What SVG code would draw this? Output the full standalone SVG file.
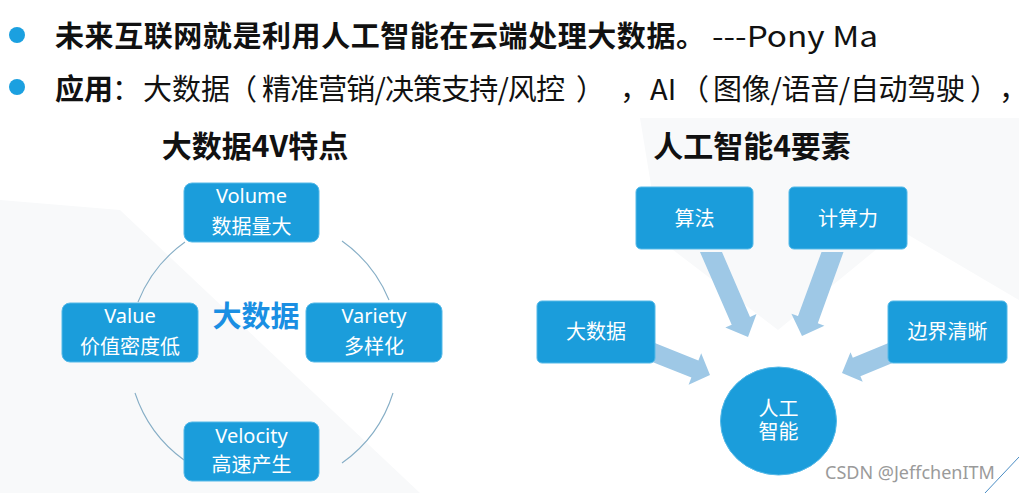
<svg xmlns="http://www.w3.org/2000/svg" width="1019" height="493" viewBox="0 0 1019 493">
  <style>
    .cjk { font-family: "Noto Sans CJK SC", "Noto Sans", sans-serif; }
    .head { font-family: "Noto Sans CJK SC", "Noto Sans", sans-serif; font-size: 29px; fill: #111; }
    .title { font-family: "Noto Sans CJK SC", sans-serif; font-size: 30px; font-weight: bold; fill: #111; text-anchor: middle; }
    .box { fill: #1b9ddb; stroke: #55b9e8; stroke-width: 1; }
    .lbl { font-family: "Noto Sans", "Noto Sans CJK SC", sans-serif; font-size: 20px; fill: #ffffff; text-anchor: middle; }
    .arc { fill: none; stroke: #86aec6; stroke-width: 1.1; }
    .arrow { fill: #9ec8e6; }
    .bullet { fill: #1ba0e0; }
  </style>
  <rect x="0" y="0" width="1019" height="493" fill="#ffffff"/>
  <g id="background" fill="#f8f9fa">
    <polygon points="0,200 0,493 420,493 120,210"/>
    <polygon points="640,118 1019,118 1019,300 900,230 778,330 660,240"/>
  </g>
  <g id="bullets">
    <circle class="bullet" cx="17" cy="35" r="8"/>
    <circle class="bullet" cx="17" cy="87" r="8"/>
  </g>
  <g id="headline">
    <text class="head" x="55" y="47"><tspan font-weight="bold" textLength="650" lengthAdjust="spacing">未来互联网就是利用人工智能在云端处理大数据。</tspan><tspan x="712" textLength="166" lengthAdjust="spacingAndGlyphs">---Pony Ma</tspan></text>
    <text class="head" y="100"><tspan x="55" font-weight="bold">应用</tspan><tspan x="112">：</tspan><tspan x="143">大数据</tspan><tspan x="228">（</tspan><tspan x="262" textLength="303" lengthAdjust="spacing">精准营销/决策支持/风控</tspan><tspan x="576">）</tspan><tspan x="620">，</tspan><tspan x="650">AI</tspan><tspan x="680">（</tspan><tspan x="713" textLength="252" lengthAdjust="spacing">图像/语音/自动驾驶</tspan><tspan x="970">）</tspan><tspan x="999">，</tspan></text>
  </g>
  <text class="title" x="255" y="157">大数据4V特点</text>
  <text class="title" x="752" y="157">人工智能4要素</text>

  <g id="connectors">
    <path class="arc" d="M185,242 A135,135 0 0 0 138,302"/>
    <path class="arc" d="M342,241 A135,135 0 0 1 389,300"/>
    <path class="arc" d="M393,393 A135,135 0 0 1 342,463"/>
    <path class="arc" d="M135,393 A135,135 0 0 0 184,460"/>
    <polygon class="arrow" points="700,252 722,252 750,317 756.5,314 748,337 725.3,327.6 731.7,324.8"/>
    <polygon class="arrow" points="821.5,252 843.5,252 817.8,323.3 824.4,325.7 802,336 791.4,313.7 798,316.1"/>
    <polygon class="arrow" points="649.2,340.7 698.4,360.4 701.2,353.2 710,375 688.6,384.8 691.4,377.6 642.2,357.9"/>
    <polygon class="arrow" points="893.4,341 852.8,357.8 850.5,352.2 842,373 862.7,381.8 860.4,376.2 901,359.4"/>
  </g>

  <g id="center-bigdata">
    <text x="256" y="327" font-family="Noto Sans CJK SC, sans-serif" font-size="29" font-weight="bold" fill="#1a8fe3" text-anchor="middle">大数据</text>
  </g>
  <g id="volume">
    <rect class="box" x="184" y="183" width="135" height="59" rx="8"/>
    <text class="lbl" x="251.5" y="203">Volume</text>
    <text class="lbl cjk" x="251.5" y="234">数据量大</text>
  </g>
  <g id="value">
    <rect class="box" x="62" y="303" width="136" height="59" rx="8"/>
    <text class="lbl" x="130" y="323">Value</text>
    <text class="lbl cjk" x="130" y="354">价值密度低</text>
  </g>
  <g id="variety">
    <rect class="box" x="306" y="303" width="136" height="59" rx="8"/>
    <text class="lbl" x="374" y="323">Variety</text>
    <text class="lbl cjk" x="374" y="354">多样化</text>
  </g>
  <g id="velocity">
    <rect class="box" x="184" y="422" width="135" height="59" rx="8"/>
    <text class="lbl" x="251.5" y="443">Velocity</text>
    <text class="lbl cjk" x="251.5" y="472">高速产生</text>
  </g>

  <g id="algorithm">
    <rect class="box" x="636" y="187" width="117" height="62" rx="5"/>
    <text class="lbl cjk" x="694.5" y="226" font-size="21">算法</text>
  </g>
  <g id="compute">
    <rect class="box" x="789" y="187" width="118" height="62" rx="5"/>
    <text class="lbl cjk" x="848" y="226" font-size="21">计算力</text>
  </g>
  <g id="bigdata">
    <rect class="box" x="537" y="301" width="118" height="62" rx="5"/>
    <text class="lbl cjk" x="596" y="339" font-size="21">大数据</text>
  </g>
  <g id="boundary">
    <rect class="box" x="888" y="301" width="119" height="62" rx="5"/>
    <text class="lbl cjk" x="947.5" y="339" font-size="21">边界清晰</text>
  </g>
  <g id="ai">
    <ellipse class="box" cx="778.5" cy="421" rx="58" ry="54"/>
    <text class="lbl cjk" font-size="20"><tspan x="778.5" y="416">人工</tspan><tspan x="778.5" y="439">智能</tspan></text>
  </g>

  <line x1="985" y1="493" x2="1019" y2="457" stroke="#4a8cc4" stroke-width="1"/>
  <text x="825" y="479" font-family="Noto Sans, sans-serif" font-size="18" fill="#9a9a9a">CSDN @JeffchenITM</text>
</svg>
